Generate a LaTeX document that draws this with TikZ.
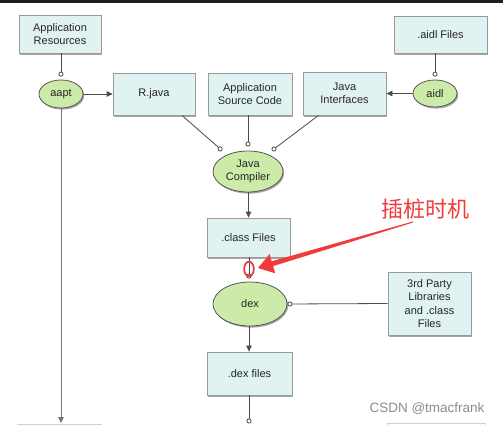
\documentclass[tikz,border=0pt]{standalone}
\usepackage{fontspec}
\setmainfont{Liberation Sans}
\newfontfamily\cjk{Noto Sans CJK SC}
\usetikzlibrary{arrows.meta,shapes.geometric,shadows}
\definecolor{boxfill}{HTML}{E1F2F3}
\definecolor{boxdraw}{HTML}{9A9A9A}
\definecolor{procfill}{HTML}{CCEBA8}
\definecolor{procdraw}{HTML}{555555}
\definecolor{ann}{HTML}{F23A3A}
\begin{document}
\begin{tikzpicture}[x=1pt,y=-1pt,
  base/.style={font=\fontsize{11}{13.5}\selectfont, align=center, inner sep=0pt, text=black!85},
  shad/.style={drop shadow={shadow xshift=1.2pt, shadow yshift=-1.6pt, opacity=0.35, fill=black}},
  box/.style={base, rectangle, fill=boxfill, draw=boxdraw, line width=0.8pt, shad},
  faintbox/.style={rectangle, fill=white, draw=black!18, line width=0.8pt},
  proc/.style={base, ellipse, fill=procfill, draw=procdraw, line width=0.8pt, shad},
  conn/.style={draw=black!70, line width=0.8pt},
  arr/.style={conn, -{Triangle[length=6pt,width=5.5pt]}},
  oc/.style={conn, -{Circle[fill=white,length=5pt,width=5pt]}},
  ocs/.style={oc, shorten >=3pt},
  co/.style={conn, {Circle[fill=white,length=5pt,width=5pt]}-},
]
\clip (0,0) rectangle (503,425);
\fill[white] (0,0) rectangle (503,425);
\fill[black!88] (0,0) rectangle (503,2.7);

% nodes
\node[box, minimum width=82, minimum height=38] (appres) at (60,34) {Application\\Resources};
\node[proc, minimum width=44, minimum height=28] (aapt) at (61,94) {aapt};
\node[box, minimum width=82, minimum height=42] (rjava) at (154,94) {R.java};
\node[box, minimum width=84, minimum height=42] (appsrc) at (250,94) {Application\\Source Code};
\node[box, minimum width=83, minimum height=43] (javaint) at (344.5,93.5) {Java\\Interfaces};
\node[box, minimum width=93, minimum height=37] (aidlf) at (440.5,34.5) {.aidl Files};
\node[proc, minimum width=44, minimum height=27] (aidl) at (435,93.5) {aidl};
\node[proc, minimum width=70, minimum height=41] (javac) at (248,171.5) {Java\\Compiler};
\node[box, minimum width=83, minimum height=39] (classf) at (248.5,237.5) {.class Files};
\node[proc, minimum width=74, minimum height=44] (dex) at (250,304) {dex};
\node[box, minimum width=83, minimum height=63] (third) at (429.5,303.5) {3rd Party\\Libraries\\and .class\\Files};
\node[box, minimum width=85, minimum height=43] (dexf) at (249.5,373.5) {.dex files};
\node[faintbox, minimum width=84, minimum height=40] (bl) at (59,444.5) {};
\node[faintbox, minimum width=98, minimum height=40] (br) at (436,443.5) {};

% connector end points
\coordinate (jcl) at (222,150.5);
\coordinate (jcm) at (248,146.5);
\coordinate (jcr) at (272,150.5);
\coordinate (aaptend) at (61,423);
\coordinate (dexend) at (249,423.5);

% connectors
\draw[ocs] (appres.south -| aapt.north) -- (aapt.north);
\draw[arr] (aapt.east) -- (rjava.west);
\draw[arr, draw=black!55] (aapt.south) -- (aaptend);
\draw[ocs] (aidl.north |- aidlf.south) -- (aidl.north);
\draw[arr] (aidl.west) -- (javaint.east);
\draw[oc] ([xshift=28]rjava.south) -- (jcl);
\draw[oc] (appsrc.south -| jcm) -- (jcm);
\draw[oc] ([xshift=-26]javaint.south) -- (jcr);
\draw[arr] (javac.south -| classf.south) -- (classf.north);
\draw[ocs] (classf.south -| 249,0) -- (dex.north -| 249,0);
\draw[co] (dex.east) -- (third.west);
\draw[arr] (dex.south -| 249,0) -- (dexf.north -| 249,0);
\draw[oc] (dexf.south -| dexend) -- (dexend);

% annotation
\draw[ann, line width=1.8pt] (249,269) ellipse [x radius=4.8, y radius=7.3];
\fill[ann] (258,268) -- (275.2,273.3) -- (273.1,266.1) -- (413.1,222.5) -- (412.9,221.5) -- (271.7,261.3) -- (269.6,254.1) -- cycle;
\node[font=\cjk\fontsize{22}{22}\selectfont, text=ann, inner sep=0pt] (annt) at (425,209) {插桩时机};

\node[font=\fontsize{13.5}{14}\selectfont, text=black!45, inner sep=0pt] (wm) at (427,409) {CSDN @tmacfrank};
\end{tikzpicture}
\end{document}
